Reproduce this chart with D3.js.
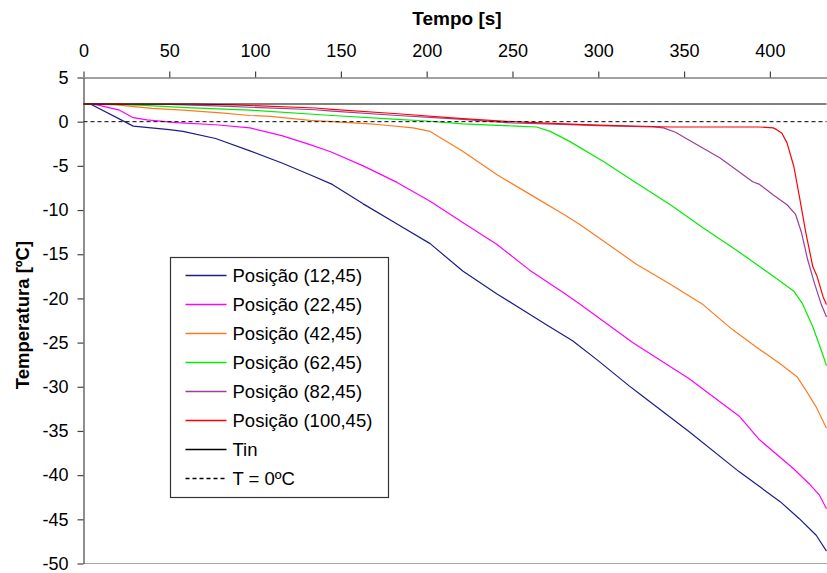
<!DOCTYPE html>
<html>
<head>
<meta charset="utf-8">
<script src="https://cdn.jsdelivr.net/npm/d3@7"></script>
<style>
    body { margin: 0; background: #fff; }
    svg { display: block; font-family: Arial, "Liberation Sans", sans-serif; }
</style>
</head>
<body>
<div class="container"></div>
<script>
// [tempo (s), temperatura (ºC)]
const pos12 = [[0, 2], [4, 2], [29, -0.5], [50, -0.9], [58, -1.1], [77, -1.9], [97, -3.3], [116, -4.7], [132, -6.0], [145, -7.1], [163, -9.3], [183, -11.6], [202, -13.8], [221, -16.9], [241, -19.5], [260, -21.8], [270, -23.0], [285, -24.8], [299, -26.9], [318, -29.9], [324, -30.8], [353, -35.1], [382, -39.6], [406, -43.0], [417, -44.9], [427, -46.8], [433, -48.6]];
const pos22 = [[0, 2], [8, 1.9], [21, 1.3], [29, 0.45], [37, 0.2], [54, -0.1], [77, -0.35], [97, -0.7], [116, -1.6], [132, -2.6], [144, -3.4], [163, -5.0], [183, -6.9], [202, -9.0], [221, -11.4], [241, -13.9], [260, -16.8], [280, -19.4], [289, -20.6], [320, -25.0], [353, -29.1], [382, -33.3], [394, -36.0], [414, -39.3], [423, -41.0], [429, -42.3], [433, -43.8]];
const pos42 = [[0, 2], [4, 2], [19, 1.9], [40, 1.5], [58, 1.3], [80, 1.0], [97, 0.7], [109, 0.6], [132, 0.15], [145, 0.0], [167, -0.25], [173, -0.35], [192, -0.7], [202, -1.1], [221, -3.35], [241, -6.0], [260, -8.2], [280, -10.5], [289, -11.6], [303, -13.5], [322, -16.1], [342, -18.4], [361, -20.7], [378, -23.5], [392, -25.5], [406, -27.4], [416, -28.9], [421, -30.4], [427, -32.3], [433, -34.7]];
const pos62 = [[0, 2], [20, 1.95], [35, 1.85], [60, 1.6], [97, 1.3], [145, 0.7], [183, 0.25], [202, 0.05], [221, -0.25], [252, -0.5], [264, -0.6], [272, -1.1], [283, -2.2], [303, -4.5], [322, -6.9], [342, -9.4], [361, -12.0], [381, -14.6], [394, -16.4], [402, -17.5], [414, -19.2], [419, -20.6], [425, -23.2], [430, -25.9], [433, -27.6]];
const pos82 = [[0, 2], [50, 1.95], [81, 1.75], [135, 1.35], [145, 1.2], [183, 0.7], [221, 0.25], [250, -0.15], [280, -0.3], [300, -0.45], [332, -0.6], [338, -0.7], [345, -1.2], [352, -2.0], [371, -4.1], [390, -6.8], [394, -7.1], [402, -8.3], [410, -9.4], [415, -10.5], [418.5, -12.6], [422, -15.6], [426, -18.3], [430, -20.7], [433, -22.1]];
const pos100 = [[0, 2], [64, 2.0], [87, 1.9], [135, 1.55], [145, 1.4], [183, 0.9], [221, 0.35], [250, 0.0], [280, -0.25], [300, -0.4], [342, -0.6], [394, -0.6], [402, -0.7], [404, -0.9], [407, -1.3], [410, -2.4], [414, -5.1], [417.5, -8.8], [421, -12.6], [425, -16.4], [427.5, -17.5], [431, -19.8], [433, -20.7]];

const seriesNames = ["Posição (12,45)", "Posição (22,45)", "Posição (42,45)", "Posição (62,45)", "Posição (82,45)", "Posição (100,45)"];
const seriesValues = [pos12, pos22, pos42, pos62, pos82, pos100];
const seriesColors = ["#1c1c8a", "#ff00ff", "#ff7a1e", "#00ee00", "#9a3f9e", "#ff0000"];

const tinValue = 2;
const zeroValue = 0;
const xTicks = [0, 50, 100, 150, 200, 250, 300, 350, 400];
const yTicks = [5, 0, -5, -10, -15, -20, -25, -30, -35, -40, -45, -50];
const tMax = 433;

const width = 827;
const height = 573;

const svg = d3.select(".container")
    .append("svg")
    .attr("width", width)
    .attr("height", height);

const x = d3.scaleLinear().domain([0, tMax]).range([83.5, 826.5]);
const y = d3.scaleLinear().domain([-50, 5]).range([563.5, 77.5]);

// bottom border of plot area
svg.append("line")
    .attr("x1", x(0)).attr("x2", width)
    .attr("y1", y(-50)).attr("y2", y(-50))
    .attr("stroke", "#a8a8a8")
    .attr("stroke-width", 1.2);

const line = d3.line()
    .x((d) => x(d[0]))
    .y((d) => y(d[1]));

svg.selectAll("path.serie")
    .data(seriesValues)
    .enter()
    .append("path")
    .attr("class", "serie")
    .attr("d", line)
    .attr("fill", "none")
    .attr("stroke", (d, i) => seriesColors[i])
    .attr("stroke-width", 1.2)
    .attr("stroke-linejoin", "round");

svg.append("path")
    .attr("d", line([[0, tinValue], [tMax, tinValue]]))
    .attr("stroke", "#000")
    .attr("stroke-width", 1.2);

svg.append("path")
    .attr("d", line([[0, zeroValue], [tMax, zeroValue]]))
    .attr("stroke", "#000")
    .attr("stroke-width", 1)
    .attr("stroke-dasharray", "4,3");

// axes (plain hyphen for negatives, like the original)
const fmt = (d) => String(d);

const xAxis = svg.append("g")
    .attr("transform", `translate(0, ${y(5)})`)
    .call(d3.axisTop(x).tickValues(xTicks).tickFormat(fmt).tickSize(6).tickSizeOuter(0).tickPadding(15));

const yAxis = svg.append("g")
    .attr("transform", `translate(${x(0)}, 0)`)
    .call(d3.axisLeft(y).tickValues(yTicks).tickFormat(fmt).tickSize(6).tickSizeOuter(0).tickPadding(9));

[xAxis, yAxis].forEach((g) => {
    g.select(".domain").attr("stroke", "#444").attr("stroke-width", 1.2);
    g.selectAll(".tick line").attr("stroke", "#444").attr("stroke-width", 1.2);
    g.selectAll(".tick text")
        .attr("fill", "#000")
        .attr("font-family", "Arial, 'Liberation Sans', sans-serif")
        .attr("font-size", "18px");
});

svg.append("text")
    .attr("x", 457)
    .attr("y", 25)
    .attr("text-anchor", "middle")
    .attr("font-size", "19px")
    .attr("font-weight", "bold")
    .text("Tempo [s]");

svg.append("text")
    .attr("transform", "translate(29, 315) rotate(-90)")
    .attr("text-anchor", "middle")
    .attr("font-size", "18.5px")
    .attr("font-weight", "bold")
    .text("Temperatura [ºC]");

// legend
const legendItems = seriesNames.map((name, i) => ({ name: name, color: seriesColors[i], dash: null }))
    .concat([{ name: "Tin", color: "#000", dash: null }, { name: "T = 0ºC", color: "#000", dash: "4,3" }]);

const legend = svg.append("g").attr("transform", "translate(170.5, 257.5)");

legend.append("rect")
    .attr("width", 218)
    .attr("height", 240)
    .attr("fill", "#fff")
    .attr("stroke", "#333")
    .attr("stroke-width", 1.2);

const rows = legend.selectAll("g.item")
    .data(legendItems)
    .enter()
    .append("g")
    .attr("class", "item")
    .attr("transform", (d, i) => `translate(0, ${18 + i * 29})`);

rows.append("line")
    .attr("x1", 15).attr("x2", 56)
    .attr("stroke", (d) => d.color)
    .attr("stroke-width", 1.3)
    .attr("stroke-dasharray", (d) => d.dash);

rows.append("text")
    .attr("x", 62)
    .attr("dy", "0.36em")
    .attr("font-size", "18.5px")
    .text((d) => d.name);
</script>
</body>
</html>
